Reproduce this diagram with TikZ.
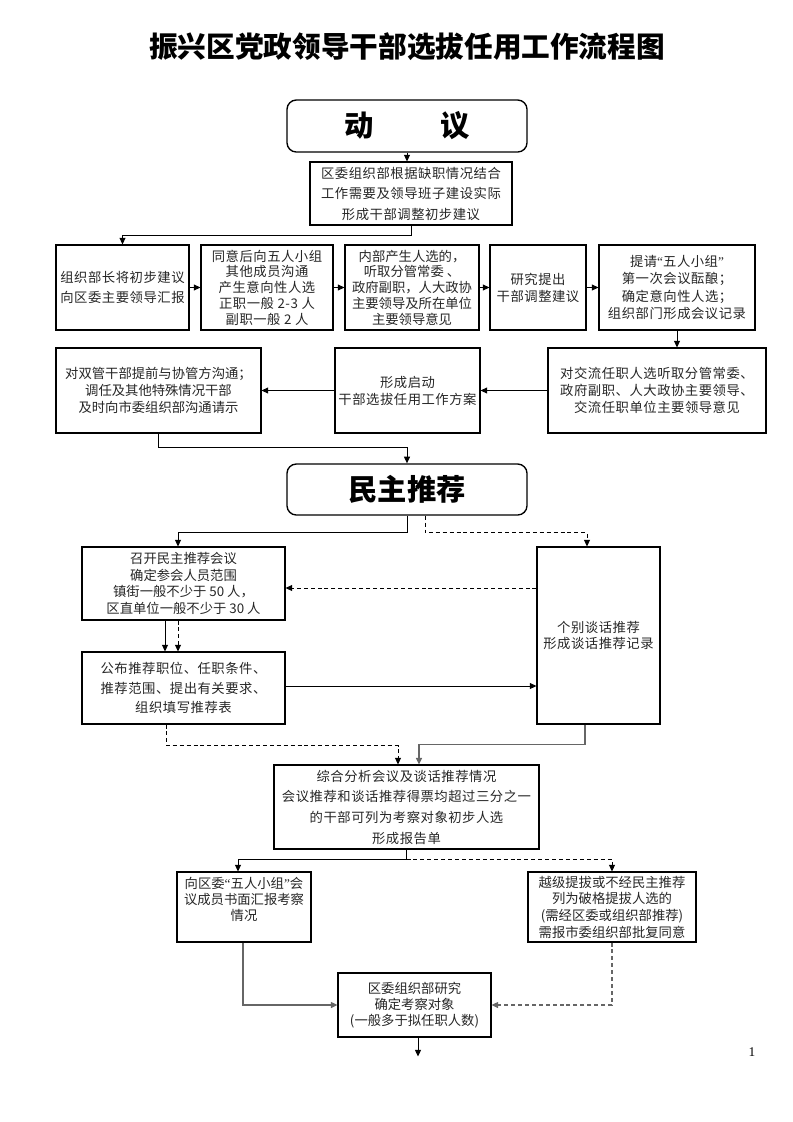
\documentclass[tikz,border=0pt]{standalone}
\usepackage{fontspec}
\setmainfont{Noto Sans CJK SC}
\newfontfamily\bodyf{Noto Sans CJK SC}[LetterSpace=4]
\newfontfamily\tightf{Noto Sans CJK SC}
\newfontfamily\latinserif{Liberation Serif}
\newcommand\myql{{\latinserif “}}
\newcommand\myqr{{\latinserif ”}}
\usetikzlibrary{arrows.meta,calc}
\tikzset{
  rect/.style n args={4}{at={({(#1+#3)/2},{(#2+#4)/2})},
     minimum width={(#3-#1)*0.75pt}, minimum height={(#4-#2)*0.75pt}},
  box/.style={draw, line width=0.8pt, inner sep=0pt, align=center, text=black!85},
  hdr/.style={draw, line width=1pt, rounded corners=7pt, inner sep=0pt, align=center,
              font=\bfseries\fontsize{22}{26}\selectfont},
  lsp/.style={font=\bodyf\fontsize{10}{#1}\selectfont},
  tsp/.style={font=\tightf\fontsize{10}{#1}\selectfont},
  arr/.style={line width=0.75pt, -{Triangle[length=5pt,width=4.5pt]}},
  darr/.style={arr, dash pattern=on 3pt off 2.2pt},
  garr/.style={arr, draw=black!60, line width=1.1pt},
  gdarr/.style={garr, dash pattern=on 3pt off 2.2pt},
}
\begin{document}
\begin{tikzpicture}[x=0.75pt, y=-0.75pt]
\useasboundingbox (0,0) rectangle (793,1122);

% title
\node[font=\bfseries\fontsize{21.5}{24}\selectfont] (title) at (407,47) {振兴区党政领导干部选拔任用工作流程图};

% ---- 动议 ----
\node[hdr, rect={287}{100}{527}{152}] (dongyi) {动\hspace{50pt}议};
\node[box, lsp=15.4pt, rect={310}{162}{512}{225}] (init) {区委组织部根据缺职情况结合\\工作需要及领导班子建设实际\\形成干部调整初步建议};

\node[box, lsp=15pt, rect={56}{245}{189}{330}] (b1) {组织部长将初步建议\\向区委主要领导汇报};
\node[box, lsp=11.8pt, rect={201}{245}{333}{330}] (b2) {同意后向五人小组\\其他成员沟通\\产生意向性人选\\正职一般 2-3 人\\副职一般 2 人};
\node[box, tsp=11.8pt, rect={345}{245}{479}{330}] (b3) {内部产生人选的，\\听取分管常委 、\\政府副职，人大政协\\主要领导及所在单位\\主要领导意见};
\node[box, lsp=12.8pt, rect={490}{245}{586}{330}] (b4) {研究提出\\干部调整建议};
\node[box, lsp=13.2pt, rect={599}{245}{755}{330}] (b5) {提请\myql 五人小组\myqr\\第一次会议酝酿；\\确定意向性人选；\\组织部门形成会议记录};

\node[box, lsp=12.8pt, rect={548}{348}{766}{433}] (b6) {对交流任职人选听取分管常委、\\政府副职、人大政协主要领导、\\交流任职单位主要领导意见};
\node[box, lsp=12.8pt, rect={335}{348}{480}{433}] (b7) {形成启动\\干部选拔任用工作方案};
\node[box, tsp=12.8pt, rect={56}{348}{261}{433}] (b8) {对双管干部提前与协管方沟通；\\调任及其他特殊情况干部\\及时向市委组织部沟通请示};

% ---- 民主推荐 ----
\node[hdr, rect={287}{464}{527}{515}] (minzhu) {民主推荐};

\node[box, tsp=12.5pt, rect={82}{547}{285}{620}] (c1) {召开民主推荐会议\\确定参会人员范围\\镇街一般不少于 50 人，\\区直单位一般不少于 30 人};
\node[box, lsp=12pt, rect={537}{547}{660}{724}] (c2) {个别谈话推荐\\形成谈话推荐记录};
\node[box, lsp=14.6pt, rect={82}{652}{285}{724}] (c3) {公布推荐职位、任职条件、\\推荐范围、提出有关要求、\\组织填写推荐表};
\node[box, lsp=15.5pt, rect={274}{765}{539}{849}] (c4) {综合分析会议及谈话推荐情况\\会议推荐和谈话推荐得票均超过三分之一\\的干部可列为考察对象初步人选\\形成报告单};

\node[box, tsp=12pt, rect={177}{872}{311}{942}] (d1) {向区委\myql 五人小组\myqr 会\\议成员书面汇报考察\\情况\\\mbox{}};
\node[box, tsp=12.5pt, rect={528}{872}{696}{942}] (d2) {越级提拔或不经民主推荐\\列为破格提拔人选的\\(需经区委或组织部推荐)\\需报市委组织部批复同意};
\node[box, tsp=12pt, rect={338}{973}{491}{1037}] (e) {区委组织部研究\\确定考察对象\\(一般多于拟任职人数)};

\node[font=\latinserif\fontsize{10}{12}\selectfont] (pg) at (752,1052) {1};

% ---- connectors ----
\draw[arr] (dongyi.south) -- (dongyi.south |- init.north);
\draw[arr] (init.south) -- ++(0,10) -| (b1.north);
\draw[arr] (b1) -- (b2);
\draw[arr] (b2) -- (b3);
\draw[arr] (b3) -- (b4);
\draw[arr] (b4) -- (b5);
\draw[arr] (b5.south) -- (b5.south |- b6.north);
\draw[arr] (b6) -- (b7);
\draw[arr] (b7) -- (b8);
\draw[arr] (b8.south) -- ++(0,14) -| (minzhu.north);

\draw[arr] (minzhu.south) -- ++(0,17) -| ($(c1.north)+(-5.5,0)$);
\draw[darr] ($(minzhu.south)+(18,0)$) -- ++(0,17) -| ($(c2.north)+(-11.5,0)$);
\draw[darr] (c2.west |- 0,588) -- (c1.east |- 0,588);
\draw[arr] ($(c1.south)+(-18.5,0)$) -- ($(c3.north)+(-18.5,0)$);
\draw[darr] ($(c1.south)+(-5.5,0)$) -- ($(c3.north)+(-5.5,0)$);
\draw[arr] (c3.east |- 0,686) -- (c2.west |- 0,686);
\draw[darr] ($(c3.south)+(-17.5,0)$) -- ++(0,21) -| ($(c4.north)+(-8.5,0)$);
\draw[garr] ($(c2.south)+(-13.5,0)$) -- ++(0,20) -| ($(c4.north)+(12.5,0)$);

\draw[arr] (c4.south) -- ++(0,10) -| ($(d1.north)+(-6,0)$);
\draw[darr] ($(c4.south)+(0,10)$) -| (d2.north);
\draw[garr] ($(d1.south)+(-1,0)$) |- (e.west);
\draw[gdarr] (d2.south) |- (e.east);
\draw[arr] ($(e.south)+(3.5,0)$) -- ++(0,19);
\end{tikzpicture}
\end{document}
